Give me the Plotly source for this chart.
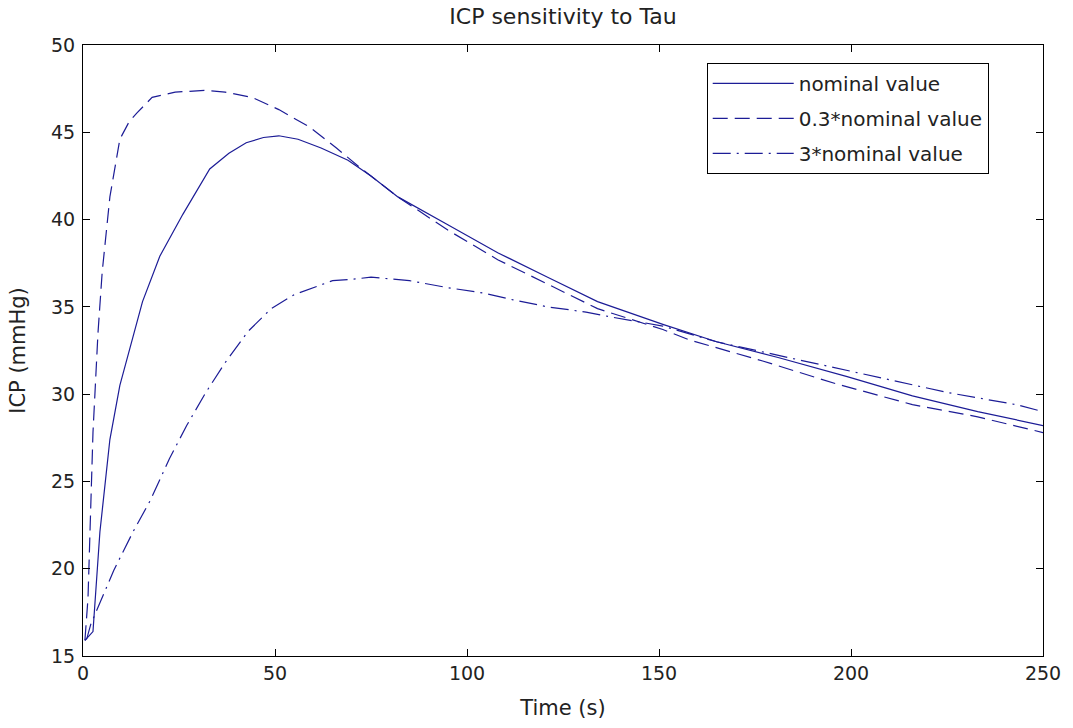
import plotly.graph_objects as go

# ---- data ----
t_nominal = [0.5, 2.6, 4.4, 7, 9.6, 12, 15.5, 20, 26, 33, 38, 42.5, 47, 51, 56, 62, 69, 75,
             82, 95, 108, 121, 134, 151, 165, 181, 199, 216, 233, 250]
icp_nominal = [15.9, 16.4, 22.1, 27.4, 30.5, 32.5, 35.3, 37.9, 40.3, 42.9, 43.8, 44.4, 44.7,
               44.8, 44.6, 44.1, 43.4, 42.5, 41.3, 39.7, 38.1, 36.7, 35.3, 34.0, 33.0, 32.1,
               31.0, 29.9, 29.0, 28.2]

t_03 = [0.5, 1.3, 2.6, 3.9, 5, 7, 9.6, 12, 14, 18, 24, 32, 37, 44, 51, 59, 66, 72, 82, 95,
        108, 121, 134, 151, 158, 177, 196, 216, 233, 250]
icp_03 = [15.9, 18.3, 27.8, 33.5, 37.0, 41.3, 44.6, 45.6, 46.1, 47.0, 47.3, 47.4, 47.3, 47.0,
          46.3, 45.3, 44.1, 43.0, 41.3, 39.4, 37.7, 36.3, 34.9, 33.7, 33.1, 31.9, 30.6, 29.4,
          28.7, 27.8]

t_3 = [0.5, 1, 2, 5, 8, 13, 17.5, 22.5, 27, 32, 37, 43, 49, 55, 65, 71, 75, 85, 95, 104, 112,
       121, 131, 138, 151, 165, 188, 207, 225, 243, 250]
icp_3 = [15.9, 16.0, 16.8, 18.3, 19.9, 22.1, 23.9, 26.3, 28.2, 30.1, 31.8, 33.6, 34.9, 35.7,
         36.5, 36.6, 36.7, 36.5, 36.1, 35.8, 35.4, 35.0, 34.7, 34.4, 33.9, 33.0, 31.9, 31.0,
         30.1, 29.4, 29.0]

series_names = ["nominal value", "0.3*nominal value", "3*nominal value"]
x_ticks = [0, 50, 100, 150, 200, 250]
y_ticks = [15, 20, 25, 30, 35, 40, 45, 50]

LINE_COLOR = "#1c1c96"
FONT = "DejaVu Sans"
TXT = "#222222"

fig = go.Figure()
fig.add_trace(go.Scatter(x=t_nominal, y=icp_nominal, mode="lines", name=series_names[0],
                         legendgroup="a",
                         line=dict(color=LINE_COLOR, width=1.2, dash="solid")))
fig.add_trace(go.Scatter(x=t_03, y=icp_03, mode="lines", name=series_names[1],
                         legendgroup="b",
                         line=dict(color=LINE_COLOR, width=1.2, dash="15px,7px")))
fig.add_trace(go.Scatter(x=t_3, y=icp_3, mode="lines", name=series_names[2],
                         legendgroup="c",
                         line=dict(color=LINE_COLOR, width=1.2, dash="18px,6px,2px,6px")))

axis_common = dict(
    showline=True, linecolor="black", linewidth=1.2, mirror="ticks",
    ticks="inside", ticklen=7, tickwidth=1, tickcolor="black",
    showgrid=False, zeroline=False,
    tickfont=dict(family=FONT, size=19, color=TXT),
)

fig.update_layout(
    width=1073, height=728,
    paper_bgcolor="white", plot_bgcolor="white",
    margin=dict(l=83, r=25, t=45, b=71),
    font=dict(family=FONT, size=19, color=TXT),
    title=dict(text="ICP sensitivity to Tau", x=0.5, xref="paper", xanchor="center",
               y=1 - 16.5 / 728, yref="container", yanchor="middle",
               font=dict(family=FONT, size=22, color=TXT)),
    xaxis=dict(range=[0, 250], tickvals=x_ticks, ticktext=[str(v) for v in x_ticks],
               title=dict(text="Time (s)", standoff=17,
                          font=dict(family=FONT, size=21, color=TXT)),
               **axis_common),
    yaxis=dict(range=[15, 50], tickvals=y_ticks, ticktext=[str(v) for v in y_ticks],
               ticklabelstandoff=3,
               title=dict(text="ICP (mmHg)", standoff=19,
                          font=dict(family=FONT, size=21, color=TXT)),
               **axis_common),
    legend=dict(x=0.6497, y=0.9706, xanchor="left", yanchor="top",
                bgcolor="white", bordercolor="black", borderwidth=1,
                font=dict(family=FONT, size=20, color=TXT),
                itemwidth=81, traceorder="grouped", tracegroupgap=6),
    showlegend=True,
)

fig.write_html("out.html",
               config={"displayModeBar": False},
               post_script="document.body.style.margin='0';document.body.style.overflow='hidden';")
